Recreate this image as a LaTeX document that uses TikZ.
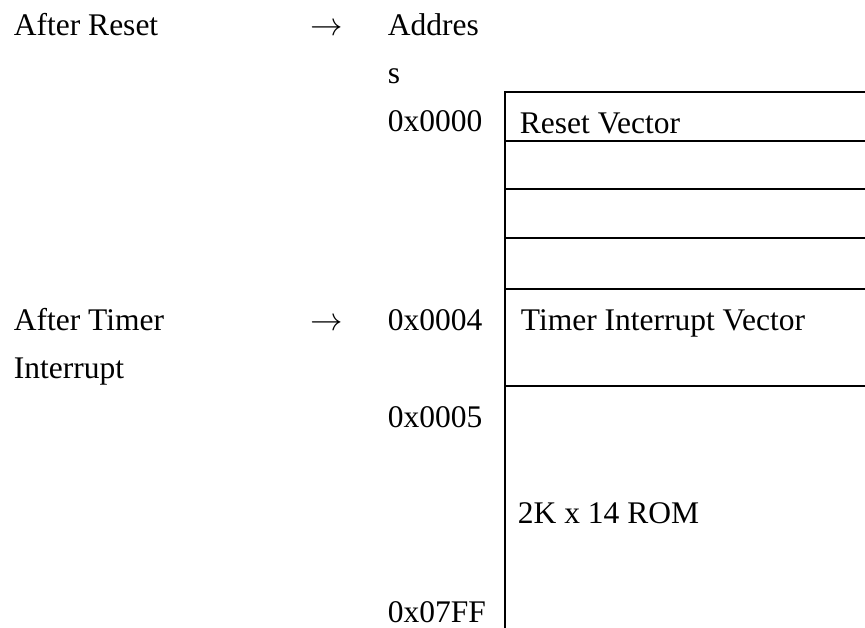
\documentclass[tikz,border=0pt]{standalone}
\usepackage{fontspec}
\setmainfont{Liberation Serif}
\usetikzlibrary{positioning}

\begin{document}
\begin{tikzpicture}[x=0.4444pt, y=-0.4444pt, line width=0.8pt,
    lbl/.style={inner sep=0pt, anchor=base west, font=\fontsize{14}{16}\selectfont}]
           \useasboundingbox (0,0) rectangle (865,628);
           % left column
           \node [lbl] (reset) at (13,35) {After Reset};
           \node [lbl] (arrA) at (310,35) {$\rightarrow$};
           \node [lbl] (addr) at (387,35) {Addres};
           \node [lbl] (addrs) at (387,83) {s};
           \node [lbl] (timer) at (13,330) {After Timer};
           \node [lbl] (intr) at (13,378) {Interrupt};
           \node [lbl] (arrB) at (310,330) {$\rightarrow$};
           % addresses
           \node [lbl] (a0) at (387,131) {0x0000};
           \node [lbl] (a4) at (387,330) {0x0004};
           \node [lbl] (a5) at (387,427) {0x0005};
           \node [lbl] (a7ff) at (387,622) {0x07FF};
           % memory cells
           \coordinate (top) at (505,92);
           \coordinate (bot) at (505,628);
           \coordinate (topR) at (865,92);
           \draw (bot) -- (top) -- (topR);
           \foreach \y in {141,189,238,289,386}
               \draw (505,\y) -- (865,\y);
           \node [lbl] (rv) at (519,133) {Reset Vector};
           \node [lbl] (tiv) at (520,330) {Timer Interrupt Vector};
           \node [lbl] (rom) at (517,523) {2K x 14 ROM};
      \end{tikzpicture}
\end{document}
